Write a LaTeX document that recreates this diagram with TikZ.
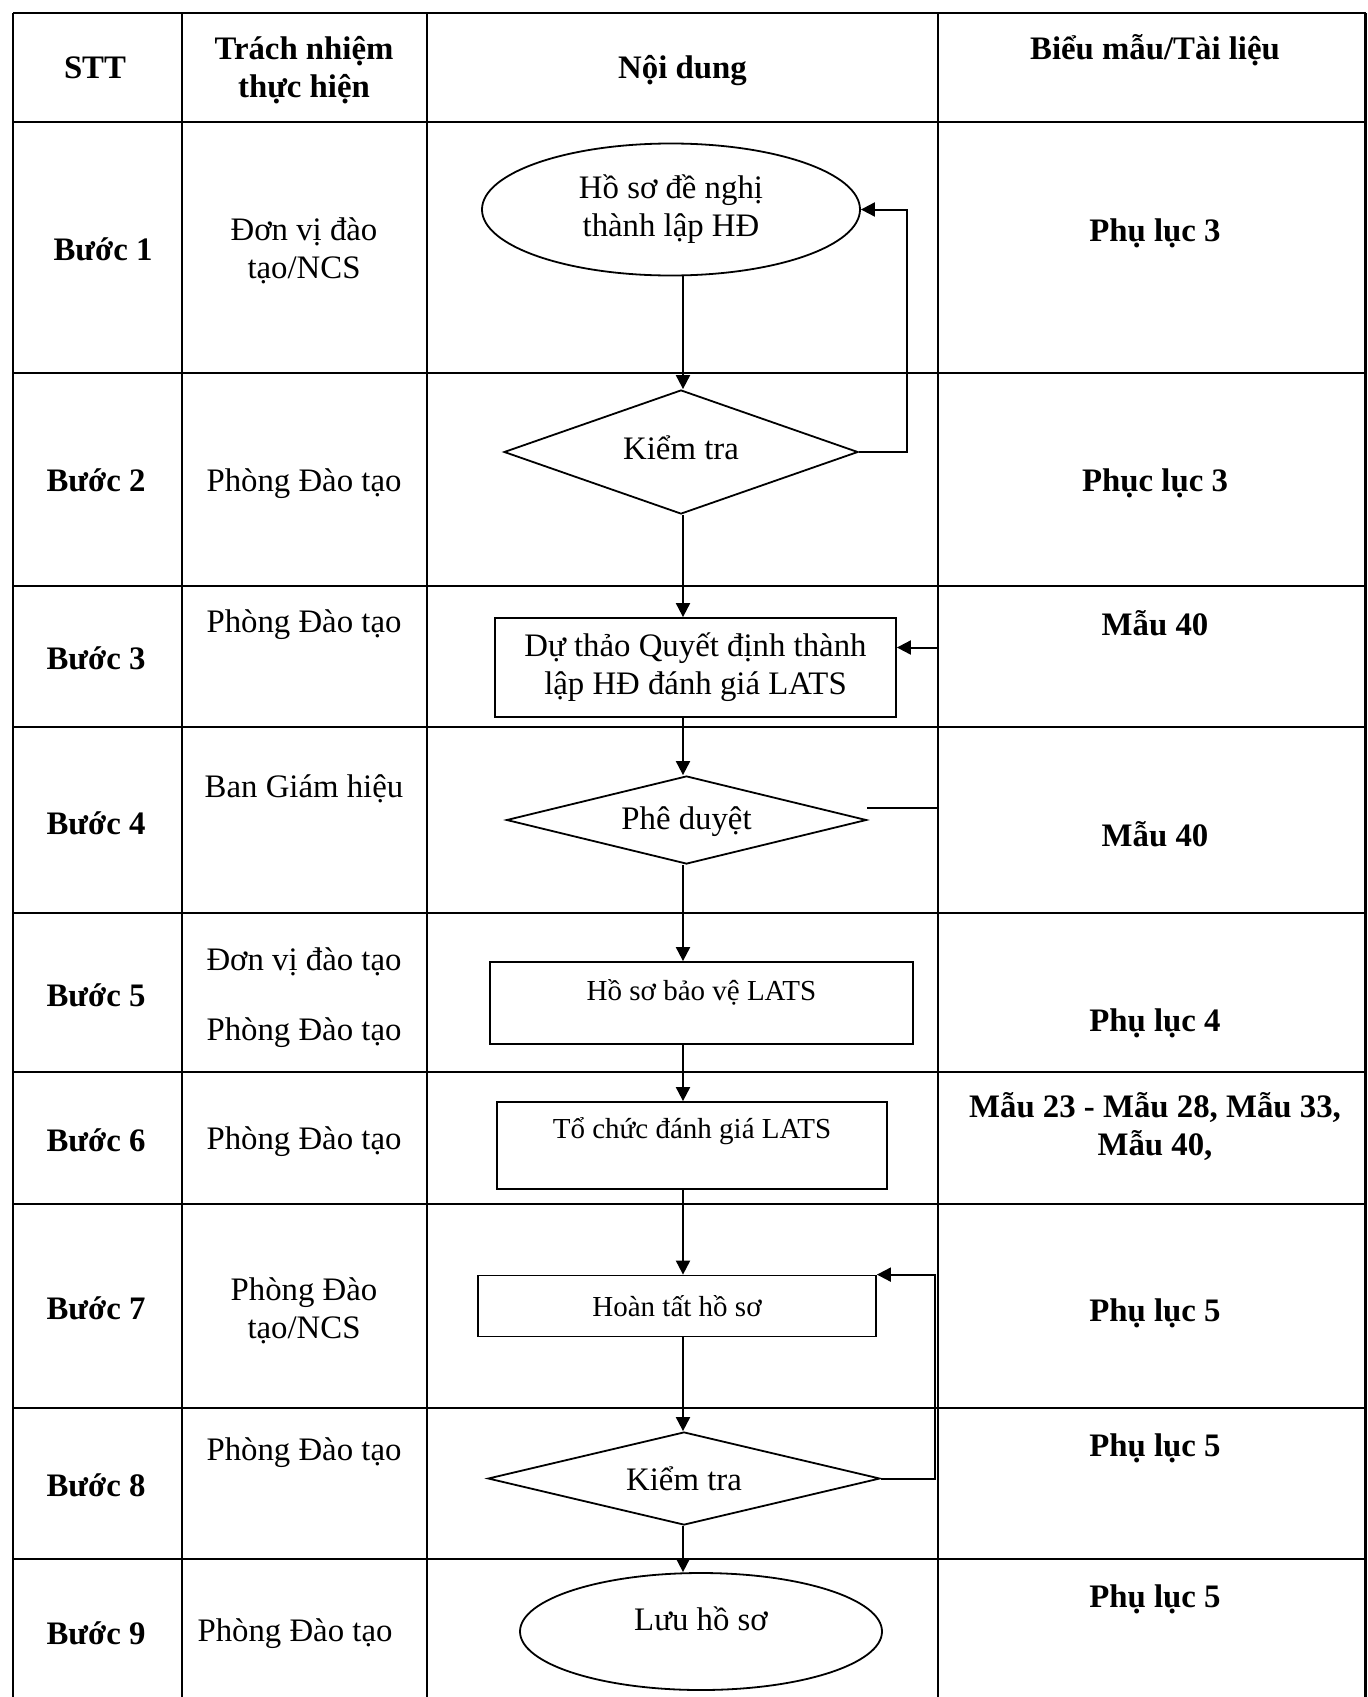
\documentclass[tikz,border=0pt]{standalone}
\usepackage{fontspec}
\setmainfont{Liberation Serif}
\usetikzlibrary{shapes.geometric, positioning, arrows.meta}
\newcommand\bigfs{\fontsize{16.4}{19}\selectfont}
\newcommand\smallfs{\fontsize{14.5}{17}\selectfont}
\tikzset {
    >={Triangle[length=7pt, width=7pt]},
    tline/.style={line width=1.1pt},
    txt/.style={font=\bigfs, align=center, inner sep=0pt},
    bold/.style={txt, font=\bigfs\bfseries},
    stxt/.style={txt, font=\smallfs},
    shp/.style={draw, line width=0.9pt, inner sep=0pt},
    termshape/.style={shp, ellipse},
    checkshape/.style={shp, diamond},
    procshape/.style={shp, rectangle},
    link/.style={->, line width=1pt}
}
\begin{document}
\begin{tikzpicture}[x=0.5pt, y=-0.5pt]
    \fill[white] (0,0) rectangle (1367,1697);
    \useasboundingbox (0,0) rectangle (1367,1697);

    % table
    \foreach \y in {13,122,373,586,727,913,1072,1204,1408,1559}
        \draw[tline] (13,\y) -- (1366,\y);
    \foreach \x in {13,182,427,938,1365.5}
        \draw[tline] (\x,13) -- (\x,1697);

    % header
    \node[bold] (hstt) at (95,68) {STT};
    \node[bold] (hresp) at (304,70) {Trách nhiệm\\thực hiện};
    \node[bold] (hcont) at (682.5,71) {Nội dung};
    \node[bold] (hform) at (1155,50) {Biểu mẫu/Tài liệu};

    % steps
    \node[bold] (s1) at (103,249) {Bước 1};
    \node[bold] (s2) at (96,480) {Bước 2};
    \node[bold] (s3) at (96,658.5) {Bước 3};
    \node[bold] (s4) at (96,823) {Bước 4};
    \node[bold] (s5) at (96,995) {Bước 5};
    \node[bold] (s6) at (96,1140.5) {Bước 6};
    \node[bold] (s7) at (96,1308.5) {Bước 7};
    \node[bold] (s8) at (96,1485) {Bước 8};
    \node[bold] (s9) at (96,1633) {Bước 9};

    % responsibility
    \node[txt] (r1) at (304,251) {Đơn vị đào\\tạo/NCS};
    \node[txt] (r2) at (304,484) {Phòng Đào tạo};
    \node[txt] (r3) at (304,625) {Phòng Đào tạo};
    \node[txt] (r4) at (304,789) {Ban Giám hiệu};
    \node[txt] (r5a) at (304,962) {Đơn vị đào tạo};
    \node[txt] (r5b) at (304,1033) {Phòng Đào tạo};
    \node[txt] (r6) at (304,1142) {Phòng Đào tạo};
    \node[txt] (r7) at (304,1310.5) {Phòng Đào\\tạo/NCS};
    \node[txt] (r8) at (304,1453) {Phòng Đào tạo};
    \node[txt] (r9) at (295,1634) {Phòng Đào tạo};

    % forms
    \node[bold] (f1) at (1155,233) {Phụ lục 3};
    \node[bold] (f2) at (1155,483) {Phục lục 3};
    \node[bold] (f3) at (1155,623) {Mẫu 40};
    \node[bold] (f4) at (1155,834.5) {Mẫu 40};
    \node[bold] (f5) at (1155,1023) {Phụ lục 4};
    \node[bold] (f6) at (1155,1127) {Mẫu 23 - Mẫu 28, Mẫu 33,\\Mẫu 40,};
    \node[bold] (f7) at (1155,1313) {Phụ lục 5};
    \node[bold] (f8) at (1155,1448) {Phụ lục 5};
    \node[bold] (f9) at (1155,1599) {Phụ lục 5};

    % flow
    \node[termshape, txt, minimum width=189pt, minimum height=66pt] (e1) at (671,209.5) {Hồ sơ đề nghị\\thành lập HĐ};
    \node[checkshape, aspect=2.85, minimum width=177pt, minimum height=62pt] (k1) at (681,452) {};
    \node[txt] (k1t) at ([yshift=2pt]k1.center) {Kiểm tra};
    \node[procshape, txt, minimum width=200.5pt, minimum height=49.5pt] (b1) at (695.5,667.5) {Dự thảo Quyết định thành\\lập HĐ đánh giá LATS};
    \node[checkshape, aspect=4.1, minimum width=180pt, minimum height=44pt] (ph) at (686.5,820) {};
    \node[txt] (pht) at ([yshift=-1pt]ph.center) {Phê duyệt};
    \node[procshape, minimum width=211.5pt, minimum height=41pt] (b2) at (701.5,1003) {};
    \node[stxt] (b2t) at ([yshift=5.25pt]b2.center) {Hồ sơ bảo vệ LATS};
    \node[procshape, minimum width=195.25pt, minimum height=43.5pt] (b3) at (692,1145.5) {};
    \node[stxt] (b3t) at ([yshift=7.25pt]b3.center) {Tổ chức đánh giá LATS};
    \node[procshape, stxt, minimum width=199pt, minimum height=30.5pt] (b4) at (677,1306) {Hoàn tất hồ sơ};
    \node[checkshape, txt, aspect=4.2, minimum width=196pt, minimum height=46.5pt] (k3) at (684,1478.5) {Kiểm tra};
    \node[termshape, minimum width=181pt, minimum height=58.5pt] (e2) at (701,1631.5) {};
    \node[txt] (e2t) at ([yshift=6.25pt]e2.center) {Lưu hồ sơ};

    \coordinate (axis) at (683,0);
    \coordinate (back1) at (907,0);
    \coordinate (back2) at (938,0);
    \coordinate (back3) at (935,0);
    \coordinate (out2) at ([yshift=6pt]ph.east);
    \coordinate (in2) at ([yshift=10pt]b1.east);

    \draw[link] (e1.south -| axis) -- (k1.north -| axis);
    \draw[link] (k1.south -| axis) -- (b1.north -| axis);
    \draw[link] (b1.south -| axis) -- (ph.north -| axis);
    \draw[link] (ph.south -| axis) -- (b2.north -| axis);
    \draw[link] (b2.south -| axis) -- (b3.north -| axis);
    \draw[link] (b3.south -| axis) -- (b4.north -| axis);
    \draw[link] (b4.south -| axis) -- (k3.north -| axis);
    \draw[link] (k3.south -| axis) -- (e2.north -| axis);

    \draw[link] (k1.east) -| (back1 |- e1.east) -- (e1.east);
    \draw[link] (out2) -| (back2 |- in2) -- (in2);
    \draw[link] (k3.east) -| (back3 |- b4.north east) -- (b4.north east);
\end{tikzpicture}
\end{document}
